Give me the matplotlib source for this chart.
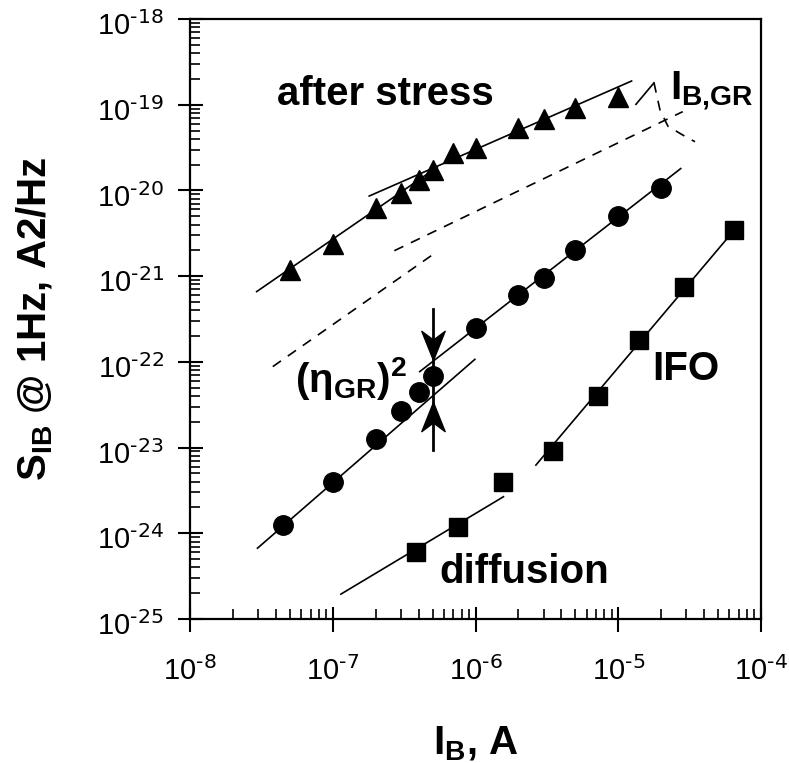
import numpy as np
import matplotlib
matplotlib.use("Agg")
import matplotlib.pyplot as plt
from matplotlib.path import Path
from matplotlib.transforms import ScaledTranslation
from matplotlib.ticker import LogLocator, NullFormatter, FuncFormatter

plt.rcParams['font.family'] = ['Liberation Sans', 'DejaVu Sans']
plt.rcParams['mathtext.default'] = 'regular'
plt.rcParams['axes.unicode_minus'] = False

# measured points
stress_i = [5e-8, 1e-7, 2e-7, 3e-7, 4e-7, 5e-7, 7e-7, 1e-6, 2e-6, 3e-6, 5e-6, 1e-5]
stress_s = [1.18e-21, 2.4e-21, 6.2e-21, 9.4e-21, 1.32e-20, 1.73e-20,
            2.7e-20, 3.1e-20, 5.3e-20, 6.9e-20, 9.1e-20, 1.24e-19]

circ_i = [4.5e-8, 1e-7, 2e-7, 3e-7, 4e-7, 5e-7, 1e-6, 2e-6, 3e-6, 5e-6, 1e-5, 2e-5]
circ_s = [1.25e-24, 4.0e-24, 1.25e-23, 2.7e-23, 4.4e-23, 6.8e-23,
          2.46e-22, 6.0e-22, 9.4e-22, 2.0e-21, 5.0e-21, 1.06e-20]

sq_i = [3.8e-7, 7.6e-7, 1.57e-6, 3.5e-6, 7.2e-6, 1.4e-5, 2.9e-5, 6.5e-5]
sq_s = [6.1e-25, 1.19e-24, 4.0e-24, 9.2e-24, 4.0e-23, 1.8e-22, 7.4e-22, 3.45e-21]

# fit lines (end points)
stress_fit1_i = [2.93e-8, 5.4e-7]
stress_fit1_s = [6.6e-22, 1.87e-20]
stress_fit2_i = [1.8e-7, 1.24e-5]
stress_fit2_s = [8.6e-21, 1.89e-19]
circ_fit1_i = [2.97e-8, 9.9e-7]
circ_fit1_s = [6.7e-25, 1.07e-22]
circ_fit2_i = [4.07e-7, 2.74e-5]
circ_fit2_s = [7.7e-23, 1.8e-20]
sq_fit1_i = [1.14e-7, 1.57e-6]
sq_fit1_s = [1.95e-25, 2.67e-24]
sq_fit2_i = [2.65e-6, 6.5e-5]
sq_fit2_s = [6.25e-24, 3.45e-21]

# dashed guides
dash1_i = [3.8e-8, 5.3e-7]
dash1_s = [8.8e-23, 1.9e-21]
dash2_i = [2.7e-7, 2.83e-5]
dash2_s = [1.98e-21, 8.3e-20]

# GR bump
gr_up_i = [1.33e-5, 1.78e-5]
gr_up_s = [1.01e-19, 1.8e-19]
gr_down_i = [1.78e-5, 1.96e-5, 2.23e-5, 2.99e-5, 3.45e-5]
gr_down_s = [1.8e-19, 8.7e-20, 5.6e-20, 4.2e-20, 3.7e-20]

# eta_GR arrows
arrow_i = 5e-7
arrow_s = [4.1e-22, 1.05e-22, 3.4e-23, 9.3e-24]  # top, down tip, up tip, bottom


def head(down=True):
    k = 1 if down else -1
    verts = [(0, 0), (0.4, k), (0, 0.7 * k), (-0.4, k), (0, 0)]
    codes = [Path.MOVETO, Path.LINETO, Path.LINETO, Path.LINETO, Path.CLOSEPOLY]
    return Path(verts, codes)


def pow10(v, pos):
    e = int(round(np.log10(v)))
    return r'$10^{\text{%d}}$' % e


def main():
    fig = plt.figure(figsize=(7.89, 7.63), dpi=100)
    ax = fig.add_axes([190 / 789, 1 - 619 / 763, 571 / 789, 600 / 763])
    ax.set_xscale('log')
    ax.set_yscale('log')
    ax.set_xlim(1e-8, 1e-4)
    ax.set_ylim(1e-25, 1e-18)

    lw = 1.2
    for xi, yi in [(stress_fit1_i, stress_fit1_s), (stress_fit2_i, stress_fit2_s),
                   (circ_fit1_i, circ_fit1_s), (circ_fit2_i, circ_fit2_s),
                   (sq_fit1_i, sq_fit1_s), (sq_fit2_i, sq_fit2_s),
                   (gr_up_i, gr_up_s)]:
        ax.plot(xi, yi, color='black', lw=lw)
    for xi, yi in [(dash1_i, dash1_s), (dash2_i, dash2_s), (gr_down_i, gr_down_s)]:
        ax.plot(xi, yi, color='black', lw=lw, dashes=(6, 5))

    ax.plot(stress_i, stress_s, '^', color='black', ms=14, zorder=3)
    ax.plot(circ_i, circ_s, 'o', color='black', ms=14, zorder=3)
    ax.plot(sq_i, sq_s, 's', color='black', ms=13, zorder=3)

    # arrows
    ax.plot([arrow_i, arrow_i], [arrow_s[0], arrow_s[3]], color='black', lw=2)
    ax.plot([arrow_i], [arrow_s[1]], marker=head(True), color='black', ms=42, lw=0)
    ax.plot([arrow_i], [arrow_s[2]], marker=head(False), color='black', ms=42, lw=0)

    fs = 29
    tr = ax.transAxes
    ax.text(0.343, 0.857, 'after stress', fontsize=fs, fontweight='bold',
            ha='center', va='baseline', transform=tr)
    ax.text(0.869, 0.398, 'IFO', fontsize=fs, fontweight='bold',
            ha='center', va='baseline', transform=tr)
    ax.text(0.585, 0.06, 'diffusion', fontsize=fs, fontweight='bold',
            ha='center', va='baseline', transform=tr)
    ax.text(0.282, 0.378, r'$(η_{GR})^2$', fontsize=fs, fontweight='bold',
            ha='center', va='baseline', transform=tr)
    ax.text(0.841, 0.867, r'$I_{B{,}GR}$', fontsize=fs, fontweight='bold',
            ha='left', va='baseline', transform=tr)

    ax.set_xlabel(r'$I_B$, A', fontsize=fs, fontweight='bold', labelpad=28)
    ax.set_ylabel(r'$S_{IB}$ @ 1Hz, A2/Hz', fontsize=fs, fontweight='bold', labelpad=30)

    for axis in (ax.xaxis, ax.yaxis):
        axis.set_major_locator(LogLocator(base=10, numticks=20))
        axis.set_major_formatter(FuncFormatter(pow10))
        axis.set_minor_locator(LogLocator(base=10, subs=np.arange(2, 10), numticks=100))
        axis.set_minor_formatter(NullFormatter())
    ax.tick_params(which='major', direction='inout', length=18, width=1.5,
                   labelsize=21, top=False, right=False)
    ax.tick_params(which='minor', direction='in', length=7, width=1.2,
                   top=False, right=False)
    ax.tick_params(axis='x', which='major', pad=18)
    ax.tick_params(axis='y', which='major', pad=10)
    for sp in ax.spines.values():
        sp.set_linewidth(1.6)

    # y tick labels sit a little below the tick in the original
    fig.canvas.draw()
    shift = ScaledTranslation(0, -3 / 72, fig.dpi_scale_trans)
    for t in ax.yaxis.get_major_ticks():
        t.label1.set_transform(t.label1.get_transform() + shift)

    fig.savefig('out.png', dpi=100)


if __name__ == "__main__":
    main()
